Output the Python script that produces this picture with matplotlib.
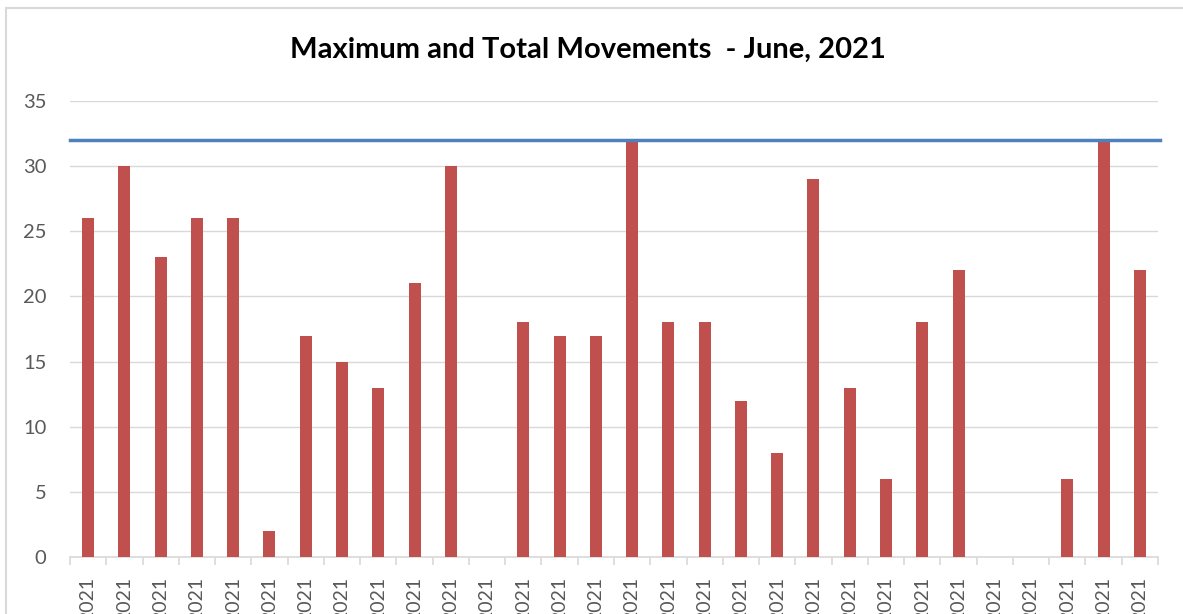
import matplotlib.pyplot as plt
import matplotlib.patches as patches
import numpy as np

plt.rcParams['font.family'] = ['Lato', 'DejaVu Sans']

# June 2021, one bar per day
days = ['2021'] * 30
movements = [26, 30, 23, 26, 26, 2, 17, 15, 13, 21,
             30, 0, 18, 17, 17, 32, 18, 18, 12, 8,
             29, 13, 6, 18, 22, 0, 0, 6, 32, 22]
max_movement = 32

fig = plt.figure(figsize=(11.83, 6.14), dpi=100)
ax = fig.add_axes([70 / 1183, 1 - 557 / 614, 1088 / 1183, 456 / 614])

# chart border (light gray, cut off on the right and bottom)
fig.patches.append(patches.Rectangle((6 / 1183, -0.05), 1.2, 0.987 + 0.05,
                                     transform=fig.transFigure, fill=False,
                                     edgecolor='#d9d9d9', linewidth=1.5))

x = np.arange(len(days))
ax.bar(x, movements, width=0.33, color='#c0504d', zorder=3)
ax.axhline(max_movement, color='#4f81bd', linewidth=2.5, zorder=4,
           xmin=0, xmax=1.002, clip_on=False)

ax.set_xlim(-0.5, len(days) - 0.5)
ax.set_ylim(0, 35)
ax.set_yticks(range(0, 36, 5))
ax.grid(axis='y', color='#d9d9d9', linewidth=1, zorder=0)
ax.set_axisbelow(True)

for side in ['top', 'right', 'left']:
    ax.spines[side].set_visible(False)
ax.spines['bottom'].set_color('#d9d9d9')
ax.spines['bottom'].set_linewidth(1.2)

ax.set_xticks(x)
ax.set_xticklabels(days, rotation=90, va='top')
ax.set_xticks(np.arange(-0.5, len(days)), minor=True)
ax.tick_params(axis='x', which='major', length=0, pad=14, labelsize=14,
               labelcolor='#595959')
ax.tick_params(axis='x', which='minor', length=6, color='#d9d9d9', width=1.2)
ax.tick_params(axis='y', length=0, pad=17, labelsize=14.5, labelcolor='#595959')

fig.text(0.497, 1 - 50 / 614, 'Maximum and Total Movements  - June, 2021',
         ha='center', va='center', fontsize=21, fontweight='bold', color='black')

fig.savefig('out.png', dpi=100)
